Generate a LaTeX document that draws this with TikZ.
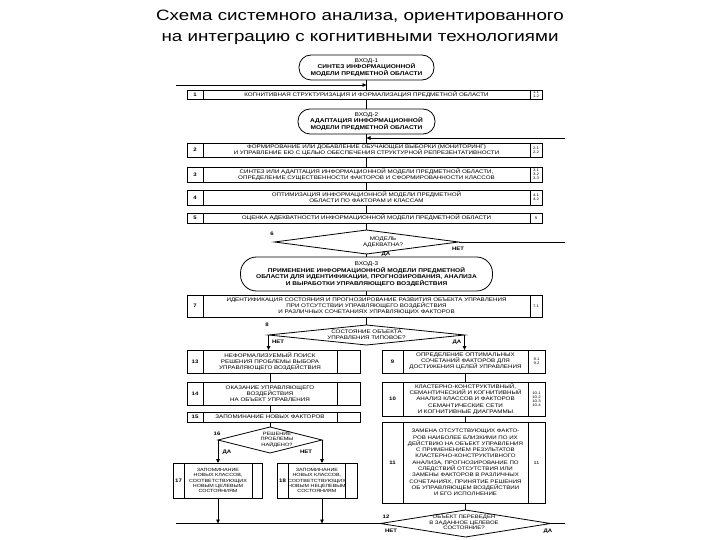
\documentclass[tikz,border=0pt]{standalone}
\usepackage{fontspec}
\setmainfont{Liberation Sans}[FakeStretch=1.2]
\newfontfamily\titlefont{Liberation Sans}[FakeStretch=1.25]
\usetikzlibrary{arrows.meta}
\tikzset{
  cell/.style={draw, line width=0.8pt, inner sep=0pt, outer sep=0pt, anchor=north west, align=center, font=\fontsize{5.2}{6.2}\selectfont},
  numc/.style={cell, font=\fontsize{5}{6}\selectfont\bfseries},
  refc/.style={cell, font=\fontsize{3.6}{4.1}\selectfont},
  smallc/.style={cell, font=\fontsize{4.5}{5.2}\selectfont},
  entry/.style={draw, line width=0.8pt, inner sep=0pt, align=center, font=\fontsize{5.5}{6.6}\selectfont\bfseries},
  dtext/.style={inner sep=0pt, align=center, font=\fontsize{5.2}{6}\selectfont},
  lbl/.style={inner sep=0pt, font=\fontsize{5}{6}\selectfont\bfseries},
  conn/.style={line width=0.8pt},
  arr/.style={line width=0.8pt, -{Triangle[length=4pt,width=3.6pt]}},
  dia/.style={line width=0.8pt}
}
\begin{document}
\begin{tikzpicture}[x=1pt,y=-1pt]
\useasboundingbox (0,0) rectangle (720,540);
\fill[white] (0,0) rectangle (720,540);

% title
\node[anchor=base, inner sep=0pt, font=\titlefont\fontsize{15}{18}\selectfont] (t1) at (360,20.7) {Схема системного анализа, ориентированного};
\node[anchor=base, inner sep=0pt, font=\titlefont\fontsize{15}{18}\selectfont] (t2) at (360,41.7) {на интеграцию с когнитивными технологиями};

% entries
\node[entry, rounded corners=12pt, minimum width=135, minimum height=25] (e1) at (366.5,67.5) {{\mdseries ВХОД-1}\\СИНТЕЗ ИНФОРМАЦИОННОЙ\\МОДЕЛИ ПРЕДМЕТНОЙ ОБЛАСТИ};
\node[entry, rounded corners=12pt, minimum width=137, minimum height=25] (e2) at (366.5,121.5) {{\mdseries ВХОД-2}\\АДАПТАЦИЯ ИНФОРМАЦИОННОЙ\\МОДЕЛИ ПРЕДМЕТНОЙ ОБЛАСТИ};
\node[entry, rounded corners=16pt, minimum width=252, minimum height=34] (e3) at (366.5,274) {{\mdseries ВХОД-3}\\ПРИМЕНЕНИЕ ИНФОРМАЦИОННОЙ МОДЕЛИ ПРЕДМЕТНОЙ\\ОБЛАСТИ ДЛЯ ИДЕНТИФИКАЦИИ, ПРОГНОЗИРОВАНИЯ, АНАЛИЗА\\И ВЫРАБОТКИ УПРАВЛЯЮЩЕГО ВОЗДЕЙСТВИЯ};

% main column boxes
\node[numc, minimum width=16, minimum height=9] (n1) at (187,90) {1};
\node[cell, minimum width=327, minimum height=9] (b1) at (203,90) {КОГНИТИВНАЯ СТРУКТУРИЗАЦИЯ И ФОРМАЛИЗАЦИЯ ПРЕДМЕТНОЙ ОБЛАСТИ};
\node[refc, minimum width=12, minimum height=9] (r1) at (530,90) {1.1\\1.2};

\node[numc, minimum width=16, minimum height=14] (n2) at (187,143) {2};
\node[cell, minimum width=327, minimum height=14] (b2) at (203,143) {ФОРМИРОВАНИЕ ИЛИ ДОБАВЛЕНИЕ ОБУЧАЮЩЕЙ ВЫБОРКИ (МОНИТОРИНГ)\\И УПРАВЛЕНИЕ ЕЮ С ЦЕЛЬЮ ОБЕСПЕЧЕНИЯ СТРУКТУРНОЙ РЕПРЕЗЕНТАТИВНОСТИ};
\node[refc, minimum width=12, minimum height=14] (r2) at (530,143) {2.1\\2.2};

\node[numc, minimum width=16, minimum height=15] (n3) at (187,167) {3};
\node[cell, minimum width=327, minimum height=15] (b3) at (203,167) {СИНТЕЗ ИЛИ АДАПТАЦИЯ ИНФОРМАЦИОННОЙ МОДЕЛИ ПРЕДМЕТНОЙ ОБЛАСТИ,\\ОПРЕДЕЛЕНИЕ СУЩЕСТВЕННОСТИ ФАКТОРОВ И СФОРМИРОВАННОСТИ КЛАССОВ};
\node[refc, minimum width=12, minimum height=15] (r3) at (530,167) {3.1\\3.2\\3.3};

\node[numc, minimum width=16, minimum height=15] (n4) at (187,190) {4};
\node[cell, minimum width=327, minimum height=15] (b4) at (203,190) {ОПТИМИЗАЦИЯ ИНФОРМАЦИОННОЙ МОДЕЛИ ПРЕДМЕТНОЙ\\ОБЛАСТИ ПО ФАКТОРАМ И КЛАССАМ};
\node[refc, minimum width=12, minimum height=15] (r4) at (530,190) {4.1\\4.2};

\node[numc, minimum width=16, minimum height=10] (n5) at (187,213) {5};
\node[cell, minimum width=327, minimum height=10] (b5) at (203,213) {ОЦЕНКА АДЕКВАТНОСТИ ИНФОРМАЦИОННОЙ МОДЕЛИ ПРЕДМЕТНОЙ ОБЛАСТИ};
\node[refc, minimum width=12, minimum height=10] (r5) at (530,213) {5};

\node[numc, minimum width=16, minimum height=22] (n7) at (187,295) {7};
\node[cell, minimum width=327, minimum height=22] (b7) at (203,295) {ИДЕНТИФИКАЦИЯ СОСТОЯНИЯ И ПРОГНОЗИРОВАНИЕ РАЗВИТИЯ ОБЪЕКТА УПРАВЛЕНИЯ\\ПРИ ОТСУТСТВИИ УПРАВЛЯЮЩЕГО ВОЗДЕЙСТВИЯ\\И РАЗЛИЧНЫХ СОЧЕТАНИЯХ УПРАВЛЯЮЩИХ ФАКТОРОВ};
\node[refc, minimum width=12, minimum height=22] (r7) at (530,295) {7.1};

% left column
\node[numc, minimum width=16, minimum height=23] (n13) at (187,350) {13};
\node[cell, minimum width=134, minimum height=23] (b13) at (203,350) {НЕФОРМАЛИЗУЕМЫЙ ПОИСК\\РЕШЕНИЯ ПРОБЛЕМЫ ВЫБОРА\\УПРАВЛЯЮЩЕГО ВОЗДЕЙСТВИЯ};
\node[refc, minimum width=23, minimum height=23] (r13) at (337,350) {};

\node[numc, minimum width=16, minimum height=23] (n14) at (187,382) {14};
\node[cell, minimum width=134, minimum height=23] (b14) at (203,382) {ОКАЗАНИЕ УПРАВЛЯЮЩЕГО\\ВОЗДЕЙСТВИЯ\\НА ОБЪЕКТ УПРАВЛЕНИЯ};
\node[refc, minimum width=23, minimum height=23] (r14) at (337,382) {};

\node[numc, minimum width=16, minimum height=10] (n15) at (187,412) {15};
\node[cell, minimum width=134, minimum height=10] (b15) at (203,412) {ЗАПОМИНАНИЕ НОВЫХ ФАКТОРОВ};
\node[refc, minimum width=23, minimum height=10] (r15) at (337,412) {};

\node[numc, minimum width=11, minimum height=35] (n17) at (173,463) {17};
\node[smallc, minimum width=68, minimum height=35] (b17) at (184,463) {ЗАПОМИНАНИЕ\\НОВЫХ КЛАССОВ,\\СООТВЕТСТВУЮЩИХ\\НОВЫМ ЦЕЛЕВЫМ\\СОСТОЯНИЯМ};
\node[refc, minimum width=10, minimum height=35] (r17) at (252,463) {};

\node[numc, minimum width=11, minimum height=35] (n18) at (277,463) {18};
\node[smallc, minimum width=57, minimum height=35] (b18) at (288,463) {ЗАПОМИНАНИЕ\\НОВЫХ КЛАССОВ,\\СООТВЕТСТВУЮЩИХ\\НОВЫМ НЕЦЕЛЕВЫМ\\СОСТОЯНИЯМ};
\node[refc, minimum width=12, minimum height=35] (r18) at (345,463) {};

% right column
\node[numc, minimum width=21, minimum height=23] (n9) at (382,350) {9};
\node[cell, minimum width=125, minimum height=23] (b9) at (403,350) {ОПРЕДЕЛЕНИЕ ОПТИМАЛЬНЫХ\\СОЧЕТАНИЙ ФАКТОРОВ ДЛЯ\\ДОСТИЖЕНИЯ ЦЕЛЕЙ УПРАВЛЕНИЯ};
\node[refc, minimum width=17, minimum height=23] (r9) at (528,350) {9.1\\9.2};

\node[numc, minimum width=21, minimum height=34] (n10) at (382,382) {10};
\node[cell, minimum width=125, minimum height=34] (b10) at (403,382) {КЛАСТЕРНО-КОНСТРУКТИВНЫЙ,\\СЕМАНТИЧЕСКИЙ И КОГНИТИВНЫЙ\\АНАЛИЗ КЛАССОВ И ФАКТОРОВ\\СЕМАНТИЧЕСКИЕ СЕТИ\\И КОГНИТИВНЫЕ ДИАГРАММЫ};
\node[refc, minimum width=17, minimum height=34] (r10) at (528,382) {10.1\\10.2\\10.3\\10.4};

\node[numc, minimum width=21, minimum height=81] (n11) at (382,422) {11};
\node[cell, font=\fontsize{5.1}{6.3}\selectfont, minimum width=125, minimum height=81] (b11) at (403,422) {ЗАМЕНА ОТСУТСТВУЮЩИХ ФАКТО-\\РОВ НАИБОЛЕЕ БЛИЗКИМИ ПО ИХ\\ДЕЙСТВИЮ НА ОБЪЕКТ УПРАВЛЕНИЯ\\С ПРИМЕНЕНИЕМ РЕЗУЛЬТАТОВ\\КЛАСТЕРНО-КОНСТРУКТИВНОГО\\АНАЛИЗА, ПРОГНОЗИРОВАНИЕ ПО\\СЛЕДСТВИЙ ОТСУТСТВИЯ ИЛИ\\ЗАМЕНЫ ФАКТОРОВ В РАЗЛИЧНЫХ\\СОЧЕТАНИЯХ, ПРИНЯТИЕ РЕШЕНИЯ\\ОБ УПРАВЛЯЮЩЕМ ВОЗДЕЙСТВИИ\\И ЕГО ИСПОЛНЕНИЕ};
\node[refc, font=\fontsize{4.5}{5}\selectfont, minimum width=17, minimum height=81] (r11) at (528,422) {11};

% diamonds
\coordinate (d6t) at (366.5,230); \coordinate (d6r) at (458.5,242);
\coordinate (d6b) at (366.5,254); \coordinate (d6l) at (274.5,242);
\draw[dia] (d6t) -- (d6r) -- (d6b) -- (d6l) -- cycle;
\node[dtext] (d6) at (383,242) {МОДЕЛЬ\\АДЕКВАТНА?};

\coordinate (d8t) at (366.5,325); \coordinate (d8r) at (464.5,335);
\coordinate (d8b) at (366.5,345); \coordinate (d8l) at (268.5,335);
\draw[dia] (d8t) -- (d8r) -- (d8b) -- (d8l) -- cycle;
\node[dtext] (d8) at (366.5,335) {СОСТОЯНИЕ ОБЪЕКТА\\УПРАВЛЕНИЯ ТИПОВОЕ?};

\coordinate (d16t) at (270,427); \coordinate (d16r) at (322,440);
\coordinate (d16b) at (270,453); \coordinate (d16l) at (218,440);
\draw[dia] (d16t) -- (d16r) -- (d16b) -- (d16l) -- cycle;
\node[dtext, font=\fontsize{4.7}{5.4}\selectfont] (d16) at (277,439.5) {РЕШЕНИЕ\\ПРОБЛЕМЫ\\НАЙДЕНО?};

\coordinate (d12t) at (465.5,510); \coordinate (d12r) at (550.5,523.5);
\coordinate (d12b) at (465.5,537); \coordinate (d12l) at (380.5,523.5);
\draw[dia] (d12t) -- (d12r) -- (d12b) -- (d12l) -- cycle;
\node[dtext, font=\fontsize{5}{5.7}\selectfont] (d12) at (464,522.5) {ОБЪЕКТ ПЕРЕВЕДЕН\\В ЗАДАННОЕ ЦЕЛЕВОЕ\\СОСТОЯНИЕ?};

% labels
\node[lbl] (l6) at (272,234) {6};
\node[lbl] (l6da) at (386,254.5) {ДА};
\node[lbl] (l6net) at (458,248.5) {НЕТ};
\node[lbl] (l8) at (267,325) {8};
\node[lbl] (l8net) at (278,342) {НЕТ};
\node[lbl] (l8da) at (457,342) {ДА};
\node[lbl] (l16) at (217,434) {16};
\node[lbl] (l16da) at (227,452) {ДА};
\node[lbl] (l16net) at (306,452) {НЕТ};
\node[lbl] (l12) at (386,517) {12};
\node[lbl] (l12net) at (391,531) {НЕТ};
\node[lbl] (l12da) at (548,531) {ДА};

% connectors main column
\draw[conn] (e1.south) -- (b1.north);
\draw[conn] (b1.south) -- (e2.north);
\draw[conn] (e2.south) -- (b2.north);
\draw[conn] (b2.south) -- (b3.north);
\draw[conn] (b3.south) -- (b4.north);
\draw[conn] (b4.south) -- (b5.north);
\draw[conn] (b5.south) -- (d6t);
\draw[conn] (d6b) -- (e3.north);
\draw[conn] (e3.south) -- (b7.north);
\draw[conn] (b7.south) -- (d8t);

% feedback lines
\coordinate (fbL1) at (176,85); \coordinate (j1) at (366.5,85);
\draw[arr] (fbL1) -- (j1);
\coordinate (fbR1) at (565,138); \coordinate (j2) at (366.5,138);
\draw[arr] (fbR1) -- (j2);
\coordinate (fbR2) at (565,242);
\draw[conn] (d6r) -- (fbR2);
\coordinate (fbL2) at (176,523.5);
\draw[conn] (d12l) -- (fbL2);
\coordinate (fbR3) at (565,523.5);
\draw[conn] (d12r) -- (fbR3);

% branches of diamond 8
\draw[arr] (d8l) -- (d8l |- b13.north);
\draw[arr] (d8r) -- (d8r |- b9.north);

% left column
\draw[conn] (b13.south) -- (b14.north);
\draw[conn] (b14.south) -- (b15.north);
\draw[conn] (b15.south) -- (d16t);
\draw[arr] (d16l) -- (d16l |- b17.north);
\draw[arr] (d16r) -- (d16r |- b18.north);
\draw[arr] (b17.south) -- (b17.south |- fbL2);
\draw[arr] (d16r |- b18.south) -- (d16r |- fbL2);

% right column
\draw[conn] (b9.south) -- (b10.north);
\draw[conn] (b10.south) -- (b11.north);
\draw[conn] (b11.south) -- (d12t);
\end{tikzpicture}
\end{document}
